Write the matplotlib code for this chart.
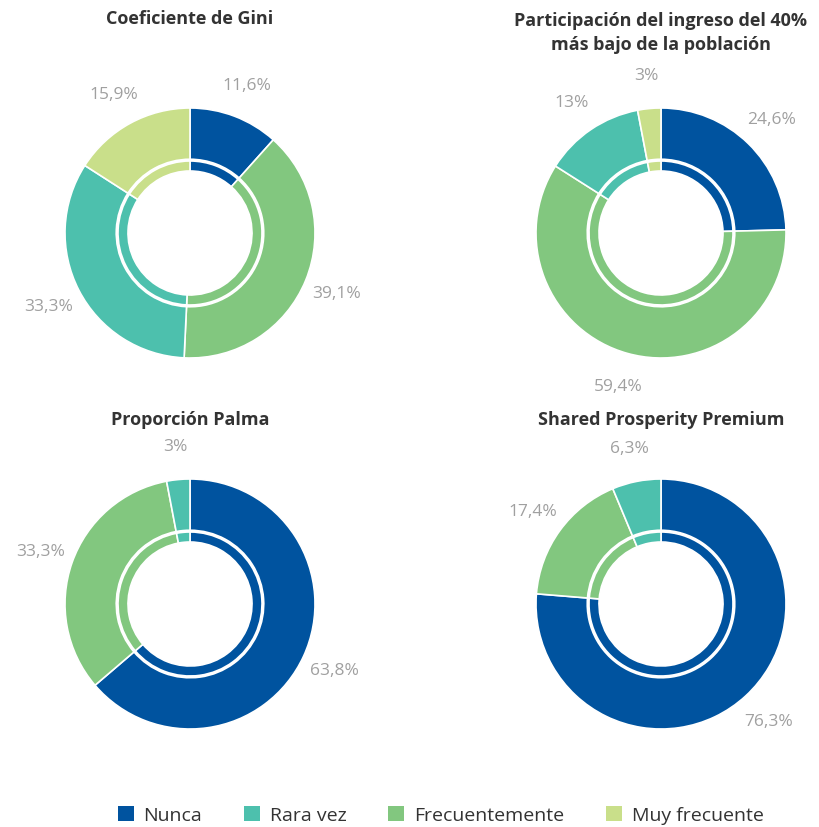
import matplotlib
matplotlib.use('Agg')
import matplotlib.pyplot as plt
from matplotlib.patches import Patch

plt.rcParams['font.family'] = ['Open Sans', 'DejaVu Sans']

# categories in legend order and their colours
categories = ['Nunca', 'Rara vez', 'Frecuentemente', 'Muy frecuente']
colors = {'Nunca': '#00539f', 'Rara vez': '#4dc0ad',
          'Frecuentemente': '#82c77f', 'Muy frecuente': '#c9df8a'}

# slice order around each donut (clockwise from top)
slice_order = ['Nunca', 'Frecuentemente', 'Rara vez', 'Muy frecuente']

titles = ['Coeficiente de Gini',
          'Participación del ingreso del 40%\nmás bajo de la población',
          'Proporción Palma',
          'Shared Prosperity Premium']

gini = [11.6, 39.1, 33.3, 15.9]
participacion = [24.6, 59.4, 13, 3]
palma = [63.8, 33.3, 3, 0]
shared = [76.3, 17.4, 6.3, 0]

all_values = [gini, participacion, palma, shared]

# chart centres in pixels (x, y from top)
centres = [(190, 234), (661, 234), (190, 605), (661, 605)]
title_y = [19, 33, 420, 420]

W, H = 819, 828
fig = plt.figure(figsize=(W / 100, H / 100), dpi=100)

R = 125  # outer radius in px
half = 175


def fmt(v):
    s = ('%.1f' % v).rstrip('0').rstrip('.')
    return s.replace('.', ',') + '%'


for vals, title, (cx, cy), ty in zip(all_values, titles, centres, title_y):
    ax = fig.add_axes([(cx - half) / W, (H - cy - half) / H, 2 * half / W, 2 * half / H])
    lim = half / R
    ax.set_aspect('equal')
    ax.axis('off')

    v = [x for x in vals if x > 0]
    c = [colors[slice_order[i]] for i, x in enumerate(vals) if x > 0]

    # outer ring
    ax.pie(v, colors=c, startangle=90, counterclock=False, radius=1.0,
           labels=[fmt(x) for x in v], labeldistance=1.27,
           textprops=dict(color='#a0a0a0', fontsize=12.5, ha='center', va='center'),
           wedgeprops=dict(width=0.41, edgecolor='white', linewidth=1.2))
    # thin inner ring
    ax.pie(v, colors=c, startangle=90, counterclock=False, radius=0.576,
           wedgeprops=dict(width=0.08, edgecolor='white', linewidth=1.2))
    ax.set_xlim(-lim, lim)
    ax.set_ylim(-lim, lim)

    fig.text(cx / W, 1 - ty / H, title, ha='center', va='center',
             fontsize=13, fontweight='bold', color='#333333', linespacing=1.4)

handles = [Patch(facecolor=colors[k], edgecolor='none') for k in categories]
fig.legend(handles, categories, loc='center', bbox_to_anchor=(0.538, 1 - 816 / H),
           ncol=4, frameon=False, fontsize=14, handlelength=0.82, handleheight=0.82,
           columnspacing=2.15, handletextpad=0.5, labelcolor='#333333')

fig.savefig('out.png', dpi=100)
